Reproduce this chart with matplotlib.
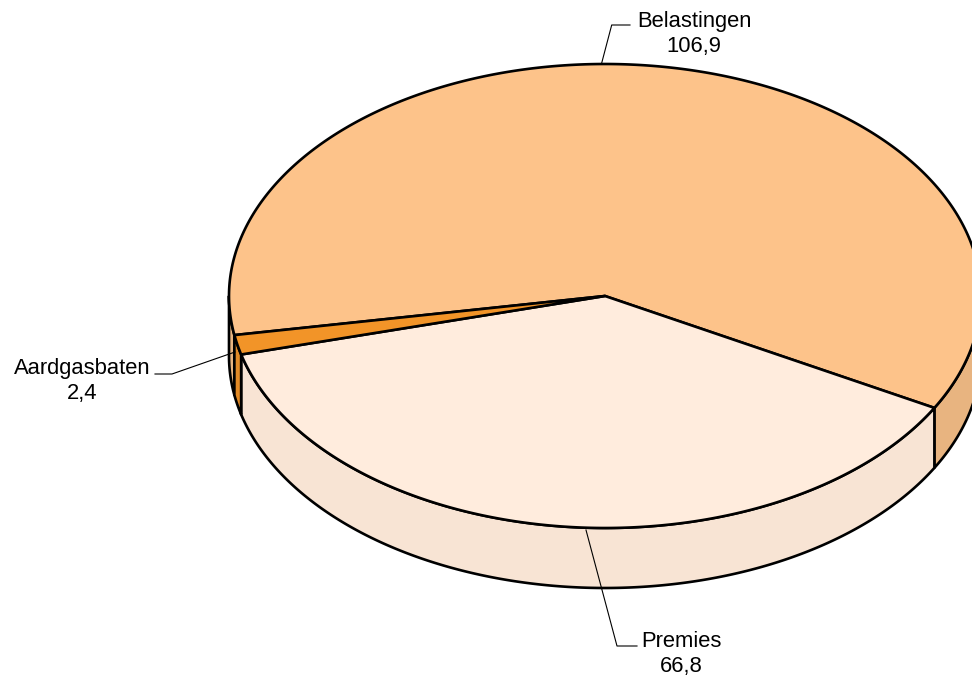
import numpy as np
import matplotlib
matplotlib.use("Agg")
import matplotlib.pyplot as plt
from matplotlib.patches import Polygon

# Revenue split (billion euro)
categories = ["Belastingen", "Premies", "Aardgasbaten"]
values = [106.9, 66.8, 2.4]
value_labels = ["106,9", "66,8", "2,4"]

top_colors = ["#FDC38A", "#FFECDD", "#F29428"]
side_colors = ["#E8B480", "#F8E4D4", "#E28A26"]

# Ellipse geometry of the tilted pie (pixel-like data units, y pointing down)
cx, cy = 605.0, 296.0
rx, ry = 376.0, 232.0
depth = 60.0
start_deg = 170.3  # first slice starts here, slices advance clockwise on screen

fig = plt.figure(figsize=(9.72, 6.78), dpi=100)
ax = fig.add_axes([0, 0, 1, 1])
ax.set_xlim(0, 972)
ax.set_ylim(678, 0)
ax.axis("off")

plt.rcParams["font.family"] = ["Liberation Sans", "DejaVu Sans"]

total = float(sum(values))
bounds = [start_deg]
for v in values:
    bounds.append(bounds[-1] + 360.0 * v / total)


def arc(a0, a1, dy=0.0, n=200):
    t = np.radians(np.linspace(a0, a1, max(2, int(n * abs(a1 - a0) / 90) + 2)))
    return np.column_stack([cx + rx * np.cos(t), cy + ry * np.sin(t) + dy])


def visible_ranges(a0, a1):
    """Parts of [a0, a1] that fall on the front half (0..180 deg, modulo 360)."""
    out = []
    for k in range(-1, 3):
        lo, hi = 360 * k, 360 * k + 180
        s, e = max(a0, lo), min(a1, hi)
        if e > s:
            out.append((s, e))
    return out


lw = 1.9
# side walls
for i in range(len(values)):
    for s, e in visible_ranges(bounds[i], bounds[i + 1]):
        top = arc(s, e)
        bot = arc(s, e, depth)[::-1]
        ax.add_patch(Polygon(np.vstack([top, bot]), closed=True,
                             facecolor=side_colors[i], edgecolor="black",
                             linewidth=lw, joinstyle="round", zorder=2))

# top faces
for i in range(len(values)):
    pts = np.vstack([[cx, cy], arc(bounds[i], bounds[i + 1])])
    ax.add_patch(Polygon(pts, closed=True, facecolor=top_colors[i],
                         edgecolor="black", linewidth=lw, joinstyle="round",
                         zorder=3))

# labels with leader lines
leaders = [
    [(601.7, 63), (611.7, 25), (630, 25)],
    [(586, 530), (617, 646), (637, 646)],
    [(235, 352), (172, 374), (155, 374)],
]
label_pos = [(694, 27), (681, 647), (82, 374)]
fs = 15.8
for i in range(len(values)):
    xs, ys = zip(*leaders[i])
    ax.plot(xs, ys, color="black", linewidth=0.8, zorder=4)
    x, y = label_pos[i]
    ax.text(x, y, categories[i], ha="center", va="baseline", fontsize=fs,
            color="black", zorder=5)
    ax.text(x, y + 25, value_labels[i], ha="center", va="baseline",
            fontsize=fs, color="black", zorder=5)

fig.savefig("out.png", dpi=100)
